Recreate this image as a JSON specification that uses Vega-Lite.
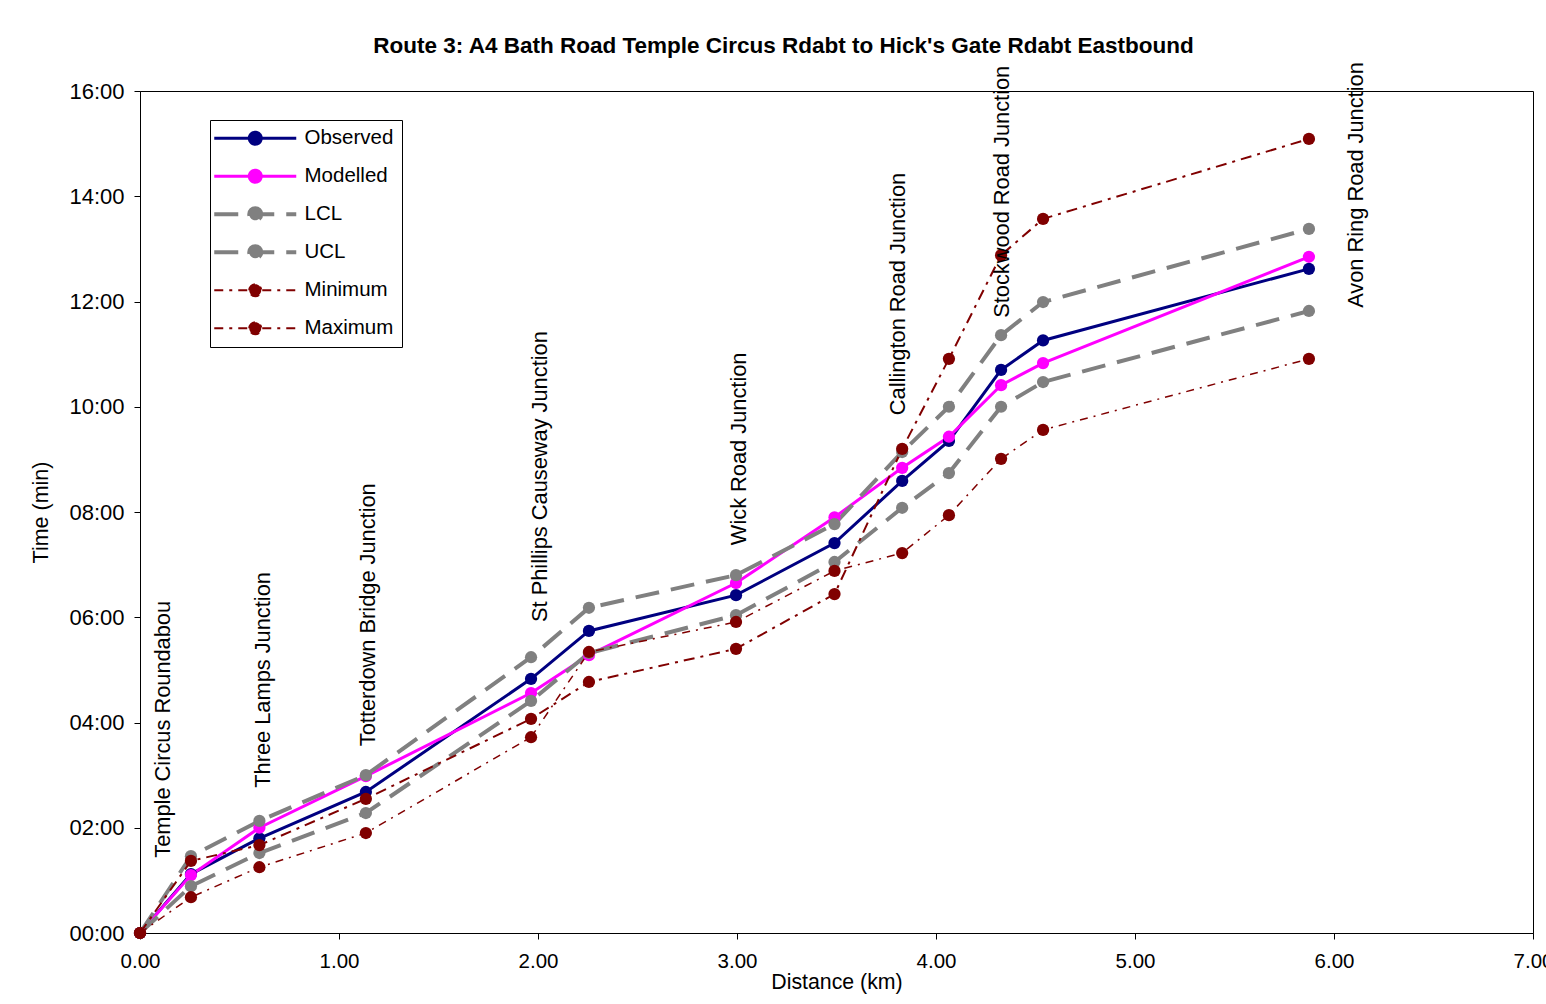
{
  "$schema": "https://vega.github.io/schema/vega-lite/v6.json",
  "width": 1393,
  "height": 842,
  "autosize": {"type": "none"},
  "padding": {"left": 140, "top": 91, "right": 13, "bottom": 71},
  "background": "white",
  "config": {"view": {"stroke": "black", "strokeWidth": 1}, "font": "Liberation Sans"},
  "title": {
    "text": "Route 3: A4 Bath Road Temple Circus Rdabt to Hick's Gate Rdabt Eastbound",
    "fontSize": 22.5, "fontWeight": "bold", "font": "Liberation Sans", "color": "black",
    "anchor": "middle", "frame": "group", "offset": 5, "dx": -53
  },
  "datasets": {
    "series": [
      {"series": "Observed", "distance": 0, "time": 0},
      {"series": "Observed", "distance": 0.256, "time": 1.12},
      {"series": "Observed", "distance": 0.6, "time": 1.80},
      {"series": "Observed", "distance": 1.135, "time": 2.68},
      {"series": "Observed", "distance": 1.965, "time": 4.83},
      {"series": "Observed", "distance": 2.256, "time": 5.74},
      {"series": "Observed", "distance": 2.995, "time": 6.42},
      {"series": "Observed", "distance": 3.49, "time": 7.41},
      {"series": "Observed", "distance": 3.83, "time": 8.59},
      {"series": "Observed", "distance": 4.065, "time": 9.35},
      {"series": "Observed", "distance": 4.327, "time": 10.70},
      {"series": "Observed", "distance": 4.538, "time": 11.26},
      {"series": "Observed", "distance": 5.874, "time": 12.62},
      {"series": "Modelled", "distance": 0, "time": 0},
      {"series": "Modelled", "distance": 0.256, "time": 1.10},
      {"series": "Modelled", "distance": 0.6, "time": 2.00},
      {"series": "Modelled", "distance": 1.135, "time": 2.98},
      {"series": "Modelled", "distance": 1.965, "time": 4.56},
      {"series": "Modelled", "distance": 2.256, "time": 5.28},
      {"series": "Modelled", "distance": 2.995, "time": 6.65},
      {"series": "Modelled", "distance": 3.49, "time": 7.90},
      {"series": "Modelled", "distance": 3.83, "time": 8.84},
      {"series": "Modelled", "distance": 4.065, "time": 9.43},
      {"series": "Modelled", "distance": 4.327, "time": 10.41},
      {"series": "Modelled", "distance": 4.538, "time": 10.83},
      {"series": "Modelled", "distance": 5.874, "time": 12.85},
      {"series": "LCL", "distance": 0, "time": 0},
      {"series": "LCL", "distance": 0.256, "time": 0.89},
      {"series": "LCL", "distance": 0.6, "time": 1.52},
      {"series": "LCL", "distance": 1.135, "time": 2.28},
      {"series": "LCL", "distance": 1.965, "time": 4.41},
      {"series": "LCL", "distance": 2.256, "time": 5.32},
      {"series": "LCL", "distance": 2.995, "time": 6.04},
      {"series": "LCL", "distance": 3.49, "time": 7.05},
      {"series": "LCL", "distance": 3.83, "time": 8.08},
      {"series": "LCL", "distance": 4.065, "time": 8.74},
      {"series": "LCL", "distance": 4.327, "time": 10.00},
      {"series": "LCL", "distance": 4.538, "time": 10.47},
      {"series": "LCL", "distance": 5.874, "time": 11.82},
      {"series": "UCL", "distance": 0, "time": 0},
      {"series": "UCL", "distance": 0.256, "time": 1.46},
      {"series": "UCL", "distance": 0.6, "time": 2.13},
      {"series": "UCL", "distance": 1.135, "time": 3.00},
      {"series": "UCL", "distance": 1.965, "time": 5.24},
      {"series": "UCL", "distance": 2.256, "time": 6.18},
      {"series": "UCL", "distance": 2.995, "time": 6.80},
      {"series": "UCL", "distance": 3.49, "time": 7.77},
      {"series": "UCL", "distance": 3.83, "time": 9.14},
      {"series": "UCL", "distance": 4.065, "time": 10.00},
      {"series": "UCL", "distance": 4.327, "time": 11.36},
      {"series": "UCL", "distance": 4.538, "time": 11.99},
      {"series": "UCL", "distance": 5.874, "time": 13.38},
      {"series": "Minimum", "distance": 0, "time": 0},
      {"series": "Minimum", "distance": 0.256, "time": 0.68},
      {"series": "Minimum", "distance": 0.6, "time": 1.25},
      {"series": "Minimum", "distance": 1.135, "time": 1.90},
      {"series": "Minimum", "distance": 1.965, "time": 3.72},
      {"series": "Minimum", "distance": 2.256, "time": 5.34},
      {"series": "Minimum", "distance": 2.995, "time": 5.91},
      {"series": "Minimum", "distance": 3.49, "time": 6.88},
      {"series": "Minimum", "distance": 3.83, "time": 7.22},
      {"series": "Minimum", "distance": 4.065, "time": 7.94},
      {"series": "Minimum", "distance": 4.327, "time": 9.01},
      {"series": "Minimum", "distance": 4.538, "time": 9.56},
      {"series": "Minimum", "distance": 5.874, "time": 10.91},
      {"series": "Maximum", "distance": 0, "time": 0},
      {"series": "Maximum", "distance": 0.256, "time": 1.37},
      {"series": "Maximum", "distance": 0.6, "time": 1.67},
      {"series": "Maximum", "distance": 1.135, "time": 2.55},
      {"series": "Maximum", "distance": 1.965, "time": 4.07},
      {"series": "Maximum", "distance": 2.256, "time": 4.77},
      {"series": "Maximum", "distance": 2.995, "time": 5.40},
      {"series": "Maximum", "distance": 3.49, "time": 6.44},
      {"series": "Maximum", "distance": 3.83, "time": 9.20},
      {"series": "Maximum", "distance": 4.065, "time": 10.91},
      {"series": "Maximum", "distance": 4.327, "time": 12.88},
      {"series": "Maximum", "distance": 4.538, "time": 13.57},
      {"series": "Maximum", "distance": 5.874, "time": 15.09}
    ],
    "junctions": [
      {"label": "Temple Circus Roundabou", "distance": 0.116, "time": 1.43},
      {"label": "Three Lamps Junction", "distance": 0.618, "time": 2.76},
      {"label": "Totterdown Bridge Junction", "distance": 1.146, "time": 3.55},
      {"label": "St Phillips Causeway Junction", "distance": 2.01, "time": 5.91},
      {"label": "Wick Road Junction", "distance": 3.01, "time": 7.37},
      {"label": "Callington Road Junction", "distance": 3.81, "time": 9.84},
      {"label": "Stockwood Road Junction", "distance": 4.33, "time": 11.69},
      {"label": "Avon Ring Road Junction", "distance": 6.11, "time": 11.88}
    ]
  },
  "encoding": {
    "x": {
      "field": "distance", "type": "quantitative",
      "scale": {"domain": [0, 7], "nice": false, "zero": false},
      "axis": {
        "title": "Distance (km)", "values": [0, 1, 2, 3, 4, 5, 6, 7], "format": ".2f",
        "grid": false, "tickSize": 6, "labelFontSize": 20.5, "titleFontSize": 21.3,
        "titleFontWeight": "normal", "labelPadding": 12, "titlePadding": 0,
        "domainColor": "black", "tickColor": "black", "labelColor": "black", "titleColor": "black",
        "labelFont": "Liberation Sans", "titleFont": "Liberation Sans", "labelFlush": false
      }
    },
    "y": {
      "field": "time", "type": "quantitative",
      "scale": {"domain": [0, 16], "nice": false},
      "axis": {
        "title": "Time (min)", "values": [0, 2, 4, 6, 8, 10, 12, 14, 16],
        "labelExpr": "(datum.value < 10 ? '0' : '') + datum.value + ':00'",
        "grid": false, "tickSize": 6, "labelFontSize": 22, "titleFontSize": 21.5,
        "titleFontWeight": "normal", "labelPadding": 10, "titlePadding": 16,
        "domainColor": "black", "tickColor": "black", "labelColor": "black", "titleColor": "black",
        "labelFont": "Liberation Sans", "titleFont": "Liberation Sans"
      }
    },
    "color": {
      "field": "series", "type": "nominal",
      "scale": {
        "domain": ["Observed", "Modelled", "LCL", "UCL", "Minimum", "Maximum"],
        "range": ["#000080", "#FF00FF", "#808080", "#808080", "#800000", "#800000"]
      },
      "legend": {
        "title": null, "orient": "none", "legendX": 70, "legendY": 29,
        "strokeColor": "black", "fillColor": "white", "padding": 8,
        "symbolType": "M-4.1,0H4.1M-0.6,0A0.6,0.6 0 1,1 0.6,0A0.6,0.6 0 1,1 -0.6,0Z",
        "symbolSize": 400, "symbolOffset": 27, "labelOffset": 39,
        "labelFontSize": 20.5, "labelFont": "Liberation Sans", "labelColor": "black",
        "rowPadding": 9, "gridAlign": "all", "symbolStrokeWidth": 3,
        "encode": {
          "symbols": {
            "update": {
              "fill": {"signal": "scale('color', datum.value)"},
              "stroke": {"signal": "scale('color', datum.value)"},
              "strokeDash": {"signal": "(datum.value == 'LCL' || datum.value == 'UCL') ? [24, 12] : ((datum.value == 'Minimum' || datum.value == 'Maximum') ? [9, 6, 3, 6] : [1, 0])"},
              "strokeWidth": {"signal": "(datum.value == 'LCL' || datum.value == 'UCL') ? 4 : ((datum.value == 'Minimum' || datum.value == 'Maximum') ? 2 : 3)"},
              "opacity": {"value": 1}
            }
          }
        }
      }
    }
  },
  "layer": [
    {
      "data": {"name": "series"},
      "transform": [{"filter": {"field": "series", "oneOf": ["Observed", "Modelled"]}}],
      "mark": {"type": "line", "strokeWidth": 3},
      "encoding": {"detail": {"field": "series"}}
    },
    {
      "data": {"name": "series"},
      "transform": [{"filter": {"field": "series", "oneOf": ["LCL", "UCL"]}}],
      "mark": {"type": "line", "strokeWidth": 4, "strokeDash": [24, 12]},
      "encoding": {"detail": {"field": "series"}}
    },
    {
      "data": {"name": "series"},
      "transform": [{"filter": {"field": "series", "equal": "Minimum"}}],
      "mark": {"type": "line", "strokeWidth": 1.5, "strokeDash": [8, 6, 2, 6]},
      "encoding": {"detail": {"field": "series"}}
    },
    {
      "data": {"name": "series"},
      "transform": [{"filter": {"field": "series", "equal": "Maximum"}}],
      "mark": {"type": "line", "strokeWidth": 2, "strokeDash": [11, 6, 3, 6]},
      "encoding": {"detail": {"field": "series"}}
    },
    {
      "data": {"name": "series"},
      "mark": {"type": "point", "filled": true, "shape": "circle", "size": 150, "opacity": 1}
    },
    {
      "data": {"name": "junctions"},
      "mark": {"type": "text", "angle": 270, "align": "left", "baseline": "middle", "fontSize": 21.8, "font": "Liberation Sans"},
      "encoding": {
        "text": {"field": "label"},
        "color": {"value": "black"}
      }
    }
  ]
}
